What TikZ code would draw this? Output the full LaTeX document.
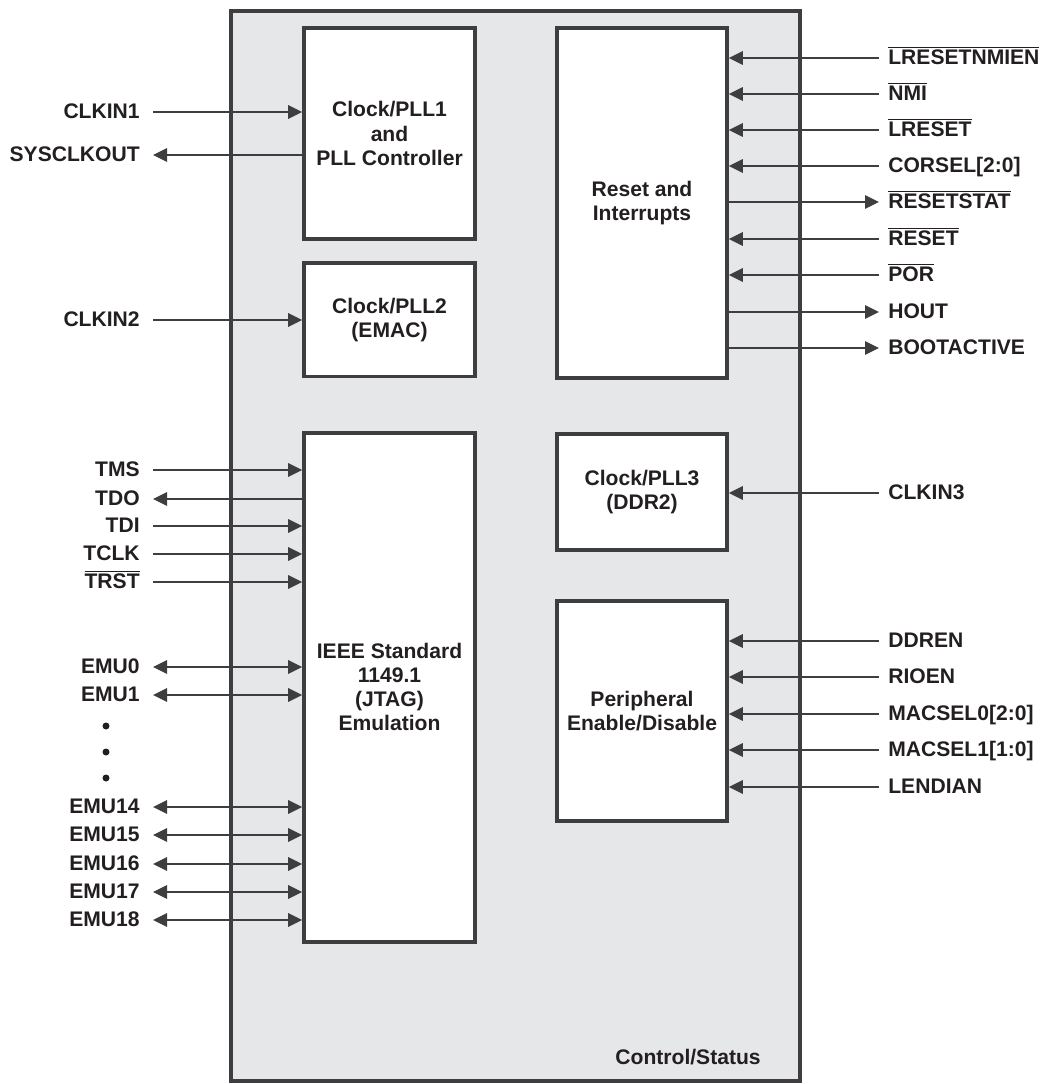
\documentclass[tikz,border=0pt]{standalone}
\usepackage{fontspec}
\setmainfont{Liberation Sans}
\usetikzlibrary{arrows.meta,positioning}
\definecolor{linegray}{HTML}{3E3E40}
\definecolor{inkgray}{HTML}{231F20}
\definecolor{panelgray}{HTML}{E6E7E9}
\newcommand{\ovl}[1]{$\overline{\mbox{#1}}$}

\begin{document}
\begin{tikzpicture}[
  x=0.02cm, y=-0.02cm,
  font=\bfseries\fontsize{12}{13.7}\selectfont,
  every node/.style={align=center, text=inkgray},
  panel/.style={draw=linegray, line width=2.1pt, fill=panelgray, inner sep=0pt},
  blk/.style={draw=linegray, line width=2.1pt, fill=white, minimum width=3.42cm, inner sep=2pt},
  sigl/.style={anchor=east, inner xsep=0.26cm, inner ysep=0pt, text height=0.72em, text depth=0pt},
  sigr/.style={anchor=west, inner xsep=0.18cm, inner ysep=0pt, text height=0.72em, text depth=0pt},
  arr/.style={-{Triangle[length=0.28cm, width=0.27cm]}, draw=linegray, line width=1pt},
  biarr/.style={{Triangle[length=0.28cm, width=0.27cm]}-{Triangle[length=0.28cm, width=0.27cm]}, draw=linegray, line width=1pt},
]
\useasboundingbox (0,0) rectangle (1043,1084);

% control/status panel
\node[panel, minimum width=11.38cm, minimum height=21.40cm] (ctl) at (515.5,546) {};
\node[inner sep=0pt, anchor=east] (cstat) at (761,1057) {Control/Status};

% blocks
\node[blk, minimum height=4.22cm] (pll1) at (389.5,133.5) {Clock/PLL1\\and\\PLL Controller};
\node[blk, minimum height=2.28cm, below=0.4cm of pll1] (pll2) {Clock/PLL2\\(EMAC)};
\node[blk, minimum height=10.18cm, below=1.05cm of pll2] (jtag) {IEEE Standard\\1149.1\\(JTAG)\\Emulation};
\node[blk, minimum width=3.40cm, minimum height=7.00cm] (rst) at (642,203) {Reset and\\Interrupts};
\node[blk, minimum width=3.40cm, minimum height=2.32cm, below=1.05cm of rst] (pll3) {Clock/PLL3\\(DDR2)};
\node[blk, minimum width=3.40cm, minimum height=4.40cm, below=0.94cm of pll3] (periph) {Peripheral\\Enable/Disable};

% left side signals
\node[sigl] (clkin1) at (153,112) {CLKIN1};
\node[sigl] (sysclk) at (153,155) {SYSCLKOUT};
\node[sigl] (clkin2) at (153,320) {CLKIN2};
\node[sigl] (tms) at (153,470) {TMS};
\node[sigl] (tdo) at (153,499) {TDO};
\node[sigl] (tdi) at (153,526) {TDI};
\node[sigl] (tclk) at (153,554) {TCLK};
\node[sigl] (trst) at (153,582) {\ovl{TRST}};
\node[sigl] (emu0) at (153,667) {EMU0};
\node[sigl] (emu1) at (153,695) {EMU1};
\node[sigl] (emu14) at (153,807) {EMU14};
\node[sigl] (emu15) at (153,835) {EMU15};
\node[sigl] (emu16) at (153,864) {EMU16};
\node[sigl] (emu17) at (153,892) {EMU17};
\node[sigl] (emu18) at (153,920) {EMU18};
\fill[inkgray] (106,726) circle[radius=0.07cm];
\fill[inkgray] (106,752) circle[radius=0.07cm];
\fill[inkgray] (106,778) circle[radius=0.07cm];

\draw[arr] (clkin1.east) -- (clkin1.east -| pll1.west);
\draw[arr] (sysclk.east -| pll1.west) -- (sysclk.east);
\draw[arr] (clkin2.east) -- (clkin2.east -| pll2.west);
\draw[arr] (tms.east) -- (tms.east -| jtag.west);
\draw[arr] (tdo.east -| jtag.west) -- (tdo.east);
\draw[arr] (tdi.east) -- (tdi.east -| jtag.west);
\draw[arr] (tclk.east) -- (tclk.east -| jtag.west);
\draw[arr] (trst.east) -- (trst.east -| jtag.west);
\draw[biarr] (emu0.east) -- (emu0.east -| jtag.west);
\draw[biarr] (emu1.east) -- (emu1.east -| jtag.west);
\draw[biarr] (emu14.east) -- (emu14.east -| jtag.west);
\draw[biarr] (emu15.east) -- (emu15.east -| jtag.west);
\draw[biarr] (emu16.east) -- (emu16.east -| jtag.west);
\draw[biarr] (emu17.east) -- (emu17.east -| jtag.west);
\draw[biarr] (emu18.east) -- (emu18.east -| jtag.west);

% right side signals
\node[sigr] (lrnmi) at (879,58) {\ovl{LRESETNMIEN}};
\node[sigr] (nmi) at (879,94) {\ovl{NMI}};
\node[sigr] (lreset) at (879,130) {\ovl{LRESET}};
\node[sigr] (corsel) at (879,166) {CORSEL[2:0]};
\node[sigr] (rstat) at (879,202) {\ovl{RESETSTAT}};
\node[sigr] (reset) at (879,239) {\ovl{RESET}};
\node[sigr] (por) at (879,275) {\ovl{POR}};
\node[sigr] (hout) at (879,312) {HOUT};
\node[sigr] (boot) at (879,348) {BOOTACTIVE};
\node[sigr] (clkin3) at (879,493) {CLKIN3};
\node[sigr] (ddren) at (879,641) {DDREN};
\node[sigr] (rioen) at (879,677) {RIOEN};
\node[sigr] (mac0) at (879,714) {MACSEL0[2:0]};
\node[sigr] (mac1) at (879,750) {MACSEL1[1:0]};
\node[sigr] (lendian) at (879,787) {LENDIAN};

\draw[arr] (lrnmi.west) -- (lrnmi.west -| rst.east);
\draw[arr] (nmi.west) -- (nmi.west -| rst.east);
\draw[arr] (lreset.west) -- (lreset.west -| rst.east);
\draw[arr] (corsel.west) -- (corsel.west -| rst.east);
\draw[arr] (rstat.west -| rst.east) -- (rstat.west);
\draw[arr] (reset.west) -- (reset.west -| rst.east);
\draw[arr] (por.west) -- (por.west -| rst.east);
\draw[arr] (hout.west -| rst.east) -- (hout.west);
\draw[arr] (boot.west -| rst.east) -- (boot.west);
\draw[arr] (clkin3.west) -- (clkin3.west -| pll3.east);
\draw[arr] (ddren.west) -- (ddren.west -| periph.east);
\draw[arr] (rioen.west) -- (rioen.west -| periph.east);
\draw[arr] (mac0.west) -- (mac0.west -| periph.east);
\draw[arr] (mac1.west) -- (mac1.west -| periph.east);
\draw[arr] (lendian.west) -- (lendian.west -| periph.east);
\end{tikzpicture}
\end{document}
